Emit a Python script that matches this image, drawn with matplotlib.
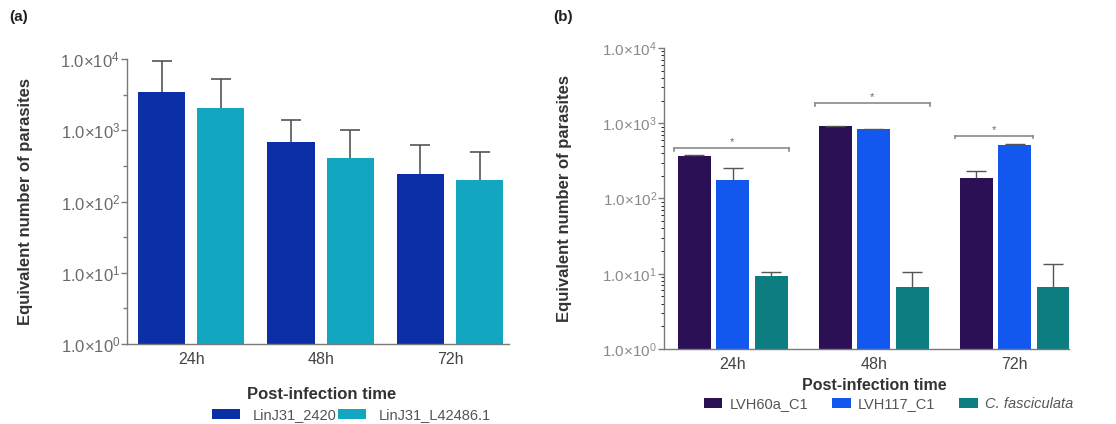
import matplotlib
matplotlib.use("Agg")
import matplotlib.pyplot as plt
import numpy as np

plt.rcParams["font.family"] = ["Liberation Sans", "DejaVu Sans"]
plt.rcParams["mathtext.fontset"] = "custom"
plt.rcParams["mathtext.rm"] = "Liberation Sans"
plt.rcParams["mathtext.it"] = "Liberation Sans:italic"
plt.rcParams["mathtext.bf"] = "Liberation Sans:bold"

# ---- data ----
times = ["24h", "48h", "72h"]

# panel (a)
a_series = ["LinJ31_2420", "LinJ31_L42486.1"]
a_2420 = [3500, 680, 247]
a_2420_err = [5800, 700, 370]
a_l42486 = [2050, 405, 198]
a_l42486_err = [3150, 595, 292]

# panel (b)
b_series = ["LVH60a_C1", "LVH117_C1", "C. fasciculata"]
b_lvh60a = [368, 906, 190]
b_lvh60a_err = [12, 24, 39]
b_lvh117 = [177, 835, 512]
b_lvh117_err = [76, 15, 13]
b_cfasc = [9.25, 6.6, 6.6]
b_cfasc_err = [1.35, 4.0, 6.8]

# significance brackets: (first bar index, last bar index) within group, height
b_sig_groups = [0, 1, 2]
b_sig_spans = [(0, 2), (0, 2), (0, 1)]
b_sig_heights = [462, 1830, 680]

ytick_vals = [1, 10, 100, 1000, 10000]
ytick_labels = [r"$1.0{\times}10^{0}$", r"$1.0{\times}10^{1}$", r"$1.0{\times}10^{2}$",
                r"$1.0{\times}10^{3}$", r"$1.0{\times}10^{4}$"]

fig = plt.figure(figsize=(11.16, 4.24), dpi=100)

axis_gray = "#7a7a7a"


def style_axes(ax, label_color, label_size):
    ax.set_yscale("log")
    ax.set_ylim(1, 10000)
    ax.set_yticks(ytick_vals)
    ax.set_yticklabels(ytick_labels)
    for s in ["top", "right"]:
        ax.spines[s].set_visible(False)
    for s in ["left", "bottom"]:
        ax.spines[s].set_color(axis_gray)
        ax.spines[s].set_linewidth(1.0)
    ax.tick_params(axis="y", which="major", direction="out", length=4, width=1,
                   color=axis_gray, labelsize=label_size, labelcolor=label_color, pad=1)
    ax.tick_params(axis="x", length=0, labelsize=11.5, labelcolor="#444444", pad=6)
    ax.set_xticks(range(len(times)))
    ax.set_xticklabels(times)


def hide_lower_caps(container):
    caps = container.errorbar.lines[1]
    if len(caps) > 0:
        caps[0].set_visible(False)


# ---- panel (a) ----
axa = fig.add_axes([0.1138, 0.1887, 0.342, 0.8608 - 0.1887])
x = np.arange(len(times))
wa = 0.364
offa = 0.229
err_kw = dict(ecolor="#555555", elinewidth=1.2, capthick=1.2)
ca1 = axa.bar(x - offa, a_2420, width=wa, color="#0b2fa6", label=a_series[0],
              yerr=[np.zeros(3), a_2420_err], capsize=7, error_kw=err_kw, zorder=2)
ca2 = axa.bar(x + offa, a_l42486, width=wa, color="#12a6c0", label=a_series[1],
              yerr=[np.zeros(3), a_l42486_err], capsize=7, error_kw=err_kw, zorder=2)
hide_lower_caps(ca1)
hide_lower_caps(ca2)
style_axes(axa, "#6a6a6a", 12)
axa.set_xlim(-0.496, 2.453)
minor = [10 ** (k + 0.5) for k in range(4)]
axa.set_yticks(minor, minor=True)
axa.set_yticklabels([], minor=True)
axa.tick_params(axis="y", which="minor", direction="out", length=3, width=1, color=axis_gray)
axa.set_ylabel("Equivalent number of parasites", fontsize=12, fontweight="bold",
               color="#333333", labelpad=20)
axa.set_xlabel("Post-infection time", fontsize=12, fontweight="bold", color="#333333")
axa.xaxis.set_label_coords(0.51, -0.15)
fig.legend(handles=[ca1, ca2], labels=a_series, loc="center",
           bbox_to_anchor=(0.315, 0.021), ncol=2, frameon=False,
           fontsize=10.5, handlelength=1.9, handleheight=0.6, columnspacing=0.1,
           handletextpad=0.9, labelcolor="#555555", borderpad=0)
fig.text(0.008, 0.95, "(a)", fontsize=11, fontweight="bold", color="#222222")

# ---- panel (b) ----
axb = fig.add_axes([0.595, 0.1769, 0.958 - 0.595, 0.8868 - 0.1769])
wb = 0.234
offb = 0.273
err_kw_b = dict(ecolor="#555555", elinewidth=1.0, capthick=1.0)
b_vals = [b_lvh60a, b_lvh117, b_cfasc]
b_errs = [b_lvh60a_err, b_lvh117_err, b_cfasc_err]
b_colors = ["#2c1055", "#1258ee", "#0c7d80"]
b_handles = []
for i in range(3):
    c = axb.bar(x + (i - 1) * offb, b_vals[i], width=wb, color=b_colors[i],
                label=b_series[i], yerr=[np.zeros(3), b_errs[i]], capsize=7,
                error_kw=err_kw_b, zorder=2)
    hide_lower_caps(c)
    b_handles.append(c)
style_axes(axb, "#8a8a8a", 11)
axb.set_xlim(-0.489, 2.387)
axb.set_ylabel("Equivalent number of parasites", fontsize=12, fontweight="bold",
               color="#333333", labelpad=22)
axb.set_xlabel("Post-infection time", fontsize=11.5, fontweight="bold", color="#333333")
axb.xaxis.set_label_coords(0.52, -0.095)

# significance brackets
for g, (i0, i1), h in zip(b_sig_groups, b_sig_spans, b_sig_heights):
    x0 = g + (i0 - 1) * offb - wb / 2 - 0.03
    x1 = g + (i1 - 1) * offb + wb / 2 + 0.01
    axb.plot([x0, x1], [h, h], color="#8a8a8a", lw=1.2, zorder=3)
    axb.plot([x0, x0], [h, h * 0.93], color="#8a8a8a", lw=1.2, zorder=3)
    axb.plot([x1, x1], [h, h * 0.93], color="#8a8a8a", lw=1.2, zorder=3)
    axb.text((x0 + x1) / 2, h * 1.03, "*", ha="center", va="bottom",
             fontsize=8, color="#666666")

leg = fig.legend(handles=b_handles, labels=b_series, loc="center",
                 bbox_to_anchor=(0.796, 0.047), ncol=3, frameon=False,
                 fontsize=10.5, handlelength=1.3, handleheight=0.6,
                 columnspacing=1.6, handletextpad=0.5, labelcolor="#555555",
                 borderpad=0)
leg.get_texts()[2].set_fontstyle("italic")
fig.text(0.496, 0.95, "(b)", fontsize=11, fontweight="bold", color="#222222")

fig.savefig("out.png", dpi=100, facecolor="white")
